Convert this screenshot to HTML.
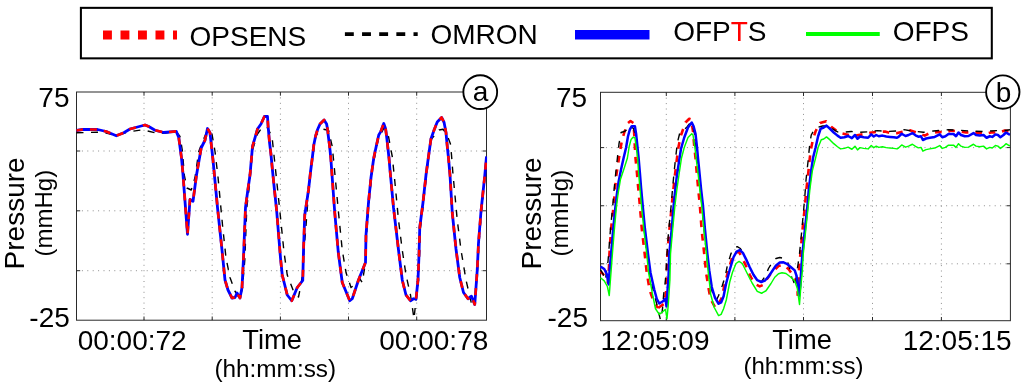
<!DOCTYPE html>
<html><head><meta charset="utf-8"><title>Pressure</title>
<style>
html,body{margin:0;padding:0;background:#fff;}
body{width:1024px;height:387px;overflow:hidden;}
svg{display:block;}
text{font-family:"Liberation Sans",sans-serif;fill:#000;}
.t28{font-size:28px;}
.grid{stroke:#8e8e8e;stroke-width:1;stroke-dasharray:1 4.4;fill:none;}
.frame{fill:none;stroke:#2a2a2a;stroke-width:1;}
.tick{stroke:#2a2a2a;stroke-width:1;}
.ln{fill:none;stroke-linejoin:round;stroke-linecap:butt;}
</style></head><body>
<svg width="1024" height="387" viewBox="0 0 1024 387">
<rect width="1024" height="387" fill="#fff"/>
<!-- legend -->
<rect x="80.9" y="7.85" width="910.9" height="50.5" fill="#fff" stroke="#000" stroke-width="2.05"/>
<line x1="103" y1="35" x2="177" y2="35" stroke="#f00" stroke-width="9.2" stroke-dasharray="8.9 8.6"/>
<text x="189.5" y="46.3" class="t28">OPSENS</text>
<line x1="344.9" y1="34.2" x2="417.7" y2="34.2" stroke="#000" stroke-width="3.7" stroke-dasharray="8.9 8.25"/>
<text x="430.5" y="43.8" class="t28">OMRON</text>
<line x1="575" y1="34.75" x2="649.5" y2="34.75" stroke="#00f" stroke-width="9.5"/>
<text x="673.2" y="40.6" class="t28">OFP<tspan fill="#f00">T</tspan>S</text>
<line x1="806" y1="34" x2="879.75" y2="34" stroke="#0f0" stroke-width="4.2"/>
<text x="892.7" y="40.6" class="t28">OFPS</text>

<!-- left chart -->
<g><line x1="144.0" y1="92" x2="144.0" y2="320.2" class="grid"/><line x1="212.2" y1="92" x2="212.2" y2="320.2" class="grid"/><line x1="280.4" y1="92" x2="280.4" y2="320.2" class="grid"/><line x1="348.5" y1="92" x2="348.5" y2="320.2" class="grid"/><line x1="416.7" y1="92" x2="416.7" y2="320.2" class="grid"/><line x1="76.5" y1="151.0" x2="486.5" y2="151.0" class="grid"/><line x1="76.5" y1="210.8" x2="486.5" y2="210.8" class="grid"/><line x1="76.5" y1="270.7" x2="486.5" y2="270.7" class="grid"/></g>
<rect x="76.5" y="92" width="410.0" height="228.2" class="frame"/><line x1="144.0" y1="320.2" x2="144.0" y2="316.5" class="tick"/><line x1="144.0" y1="92" x2="144.0" y2="95.7" class="tick"/><line x1="212.2" y1="320.2" x2="212.2" y2="316.5" class="tick"/><line x1="212.2" y1="92" x2="212.2" y2="95.7" class="tick"/><line x1="280.4" y1="320.2" x2="280.4" y2="316.5" class="tick"/><line x1="280.4" y1="92" x2="280.4" y2="95.7" class="tick"/><line x1="348.5" y1="320.2" x2="348.5" y2="316.5" class="tick"/><line x1="348.5" y1="92" x2="348.5" y2="95.7" class="tick"/><line x1="416.7" y1="320.2" x2="416.7" y2="316.5" class="tick"/><line x1="416.7" y1="92" x2="416.7" y2="95.7" class="tick"/><line x1="76.5" y1="151.0" x2="80.2" y2="151.0" class="tick"/><line x1="486.5" y1="151.0" x2="482.8" y2="151.0" class="tick"/><line x1="76.5" y1="210.8" x2="80.2" y2="210.8" class="tick"/><line x1="486.5" y1="210.8" x2="482.8" y2="210.8" class="tick"/><line x1="76.5" y1="270.7" x2="80.2" y2="270.7" class="tick"/><line x1="486.5" y1="270.7" x2="482.8" y2="270.7" class="tick"/>
<clipPath id="cl"><rect x="76.0" y="91.5" width="411.1" height="229.2"/></clipPath>
<g clip-path="url(#cl)">
<polyline class="ln" stroke="#000" stroke-width="1.4" stroke-dasharray="7 7.5" points="76.5,132.75 97.5,132.25 106.25,133 116.25,135.75 127.5,132 142.5,129.75 155,132.75 163.75,133.25 176.25,131.5 180,136.5 182.5,151.5 184.25,175 187,188 191.25,190 195,177.5 198.75,151.5 202.5,141.5 207.5,130.25 212,134 215,151.5 218,177 222.5,225 226,258 230,277.5 235,291.25 240,298.75 242.5,287.5 244.8,260 246.8,207.5 249.5,185 252.5,150 257.5,134 262.5,127 267.5,127.75 272,136.5 274.5,160 276.4,178 280,212.5 284,252 287.25,275 293.5,291.25 298.5,297 301,285 303,270 304,250 305.5,232.5 308.5,192 312,160 316,135.25 322.25,129 328.5,130.25 332.25,146.5 335,175 338.5,212.5 342.25,250 346,272.5 351,287.5 356,283.75 359.75,278.75 362.25,282.5 363.5,275 365.5,262.5 366.5,235 369,202.5 372.25,169 378,140 384,127.75 388.5,136.5 392.25,156.5 394.5,178 398.5,220 402.25,250 406,275 410.5,295 414,318.75 416,300 418.5,280 419.5,255 420.5,227.5 423.5,202.5 426.5,175 429.3,151.5 431.5,139 435.4,134.4 439.1,130 443,129.3 446.6,133.75 450.4,143.75 451.5,155 452.8,172 457.25,220 461,250 466,280 471.5,303.75 474.75,303.75 477.5,270 479,243 481.5,211.25 485,176 486.5,158"/>
<polyline class="ln" stroke="#00f" stroke-width="2.8" points="76.5,130.5 82.5,129.5 97.5,129.5 106.25,131.5 116.25,135.75 123.75,132.75 130,129 145,125 148.75,126.5 155,130.25 163.75,132.5 176.25,131.4 178.75,137.5 180.6,151.25 181.5,158 182.8,172 187.5,234.25 190,199.5 193,201.25 196.5,175 201.25,147.75 205,140.25 207.5,128.5 210,132.75 213,160 217.5,207.5 222,250 225,280 228,290 232,298 235,297.5 237,293 240,298 242,287.5 243.5,258 245.5,207.5 247.5,192.5 250,175 252.5,146.5 257.5,129 261,124 264.4,116.5 267.5,116.5 268.1,126.25 269.4,141.25 270.9,153.75 272.5,170.5 274.4,189.25 276.6,210 280.5,258 282.25,275 287.25,295 291.75,300.75 297.25,287.5 302.75,280.5 303.5,250 304.75,215 308.5,190 310.5,172 312.3,158 313.8,145 315.6,136 317.6,129.5 320,124 324.1,120 326.6,123.9 327.6,129.5 328.3,136 329.6,146 330.8,158 334.75,212.5 338.25,252 342.25,282.5 349.75,300.75 352.25,298.75 358.5,280 363.5,267.5 365.5,262.5 366,235 368.5,202.5 371,177.5 373.75,158 376.25,146.25 378.75,135 380.6,131.9 383.75,123.5 385.6,128.75 386.9,138.75 388.1,150 389,158 390,170 393.5,207.5 398.5,250 402.25,280 406,295 410.5,300.75 413.5,298.75 416,299.25 418,280 419,255 419.75,227.5 423,202.5 426,175 428.3,158 429.75,147.5 431,138.75 434.1,130 437.25,121.9 441.6,117.5 444.1,122.5 446,132.5 447.25,146.25 448.5,158 450,175 452.25,212.5 456,249 459.75,277.5 463.5,292.5 468,298.75 471.5,296.25 474.75,304.5 477.25,270 478.5,243 481,211.25 484.75,176 486.5,156.5"/>
<polyline class="ln" stroke="#f00" stroke-width="2.6" stroke-dasharray="7 7" stroke-dashoffset="0.5" points="76.5,130.5 82.5,129.5 97.5,129.5 106.25,131.5 116.25,135.75 123.75,132.75 130,129 145,125 148.75,126.5 155,130.25 163.75,132.5 176.25,131.4 178.75,137.5 180.6,151.25 181.5,158 182.8,172 187.5,234.25 190,199.5 193,201.25 196.5,175 201.25,147.75 205,140.25 207.5,128.5 210,132.75 213,160 217.5,207.5 222,250 225,280 228,290 232,298 235,297.5 237,293 240,298 242,287.5 243.5,258 245.5,207.5 247.5,192.5 250,175 252.5,146.5 257.5,129 261,124 264.4,116.5 267.5,116.5 268.1,126.25 269.4,141.25 270.9,153.75 272.5,170.5 274.4,189.25 276.6,210 280.5,258 282.25,275 287.25,295 291.75,300.75 297.25,287.5 302.75,280.5 303.5,250 304.75,215 308.5,190 310.5,172 312.3,158 313.8,145 315.6,136 317.6,129.5 320,124 324.1,120 326.6,123.9 327.6,129.5 328.3,136 329.6,146 330.8,158 334.75,212.5 338.25,252 342.25,282.5 349.75,300.75 352.25,298.75 358.5,280 363.5,267.5 365.5,262.5 366,235 368.5,202.5 371,177.5 373.75,158 376.25,146.25 378.75,135 380.6,131.9 383.75,123.5 385.6,128.75 386.9,138.75 388.1,150 389,158 390,170 393.5,207.5 398.5,250 402.25,280 406,295 410.5,300.75 413.5,298.75 416,299.25 418,280 419,255 419.75,227.5 423,202.5 426,175 428.3,158 429.75,147.5 431,138.75 434.1,130 437.25,121.9 441.6,117.5 444.1,122.5 446,132.5 447.25,146.25 448.5,158 450,175 452.25,212.5 456,249 459.75,277.5 463.5,292.5 468,298.75 471.5,296.25 474.75,304.5 477.25,270 478.5,243 481,211.25 484.75,176 486.5,156.5"/>
</g>
<circle cx="480.25" cy="92.1" r="16.9" fill="#fff" stroke="#000" stroke-width="1.85"/>
<text x="480.5" y="101.2" class="t28" text-anchor="middle">a</text>
<text x="69.5" y="107.2" class="t28" text-anchor="end">75</text>
<text x="69.8" y="326.6" class="t28" text-anchor="end">-25</text>
<text transform="translate(23.9,213.4) rotate(-90)" class="t28" text-anchor="middle">Pressure</text>
<text transform="translate(51.7,213.2) rotate(-90)" font-size="24" text-anchor="middle">(mmHg)</text>
<text x="132.2" y="349.5" class="t28" text-anchor="middle">00:00:72</text>
<text x="272.2" y="349.4" font-size="27.3" text-anchor="middle">Time</text>
<text x="275.25" y="376.6" font-size="24.35" text-anchor="middle">(hh:mm:ss)</text>
<text x="433.8" y="349.5" class="t28" text-anchor="middle">00:00:78</text>

<!-- right chart -->
<g><line x1="666.3" y1="92.3" x2="666.3" y2="320.7" class="grid"/><line x1="734.9" y1="92.3" x2="734.9" y2="320.7" class="grid"/><line x1="803.5" y1="92.3" x2="803.5" y2="320.7" class="grid"/><line x1="872.5" y1="92.3" x2="872.5" y2="320.7" class="grid"/><line x1="941.4" y1="92.3" x2="941.4" y2="320.7" class="grid"/><line x1="600.5" y1="147.6" x2="1010.4" y2="147.6" class="grid"/><line x1="600.5" y1="205.75" x2="1010.4" y2="205.75" class="grid"/><line x1="600.5" y1="263.8" x2="1010.4" y2="263.8" class="grid"/></g>
<rect x="600.5" y="92.3" width="409.9" height="228.39999999999998" class="frame"/><line x1="666.3" y1="320.7" x2="666.3" y2="317.0" class="tick"/><line x1="666.3" y1="92.3" x2="666.3" y2="96.0" class="tick"/><line x1="734.9" y1="320.7" x2="734.9" y2="317.0" class="tick"/><line x1="734.9" y1="92.3" x2="734.9" y2="96.0" class="tick"/><line x1="803.5" y1="320.7" x2="803.5" y2="317.0" class="tick"/><line x1="803.5" y1="92.3" x2="803.5" y2="96.0" class="tick"/><line x1="872.5" y1="320.7" x2="872.5" y2="317.0" class="tick"/><line x1="872.5" y1="92.3" x2="872.5" y2="96.0" class="tick"/><line x1="941.4" y1="320.7" x2="941.4" y2="317.0" class="tick"/><line x1="941.4" y1="92.3" x2="941.4" y2="96.0" class="tick"/><line x1="600.5" y1="147.6" x2="604.2" y2="147.6" class="tick"/><line x1="1010.4" y1="147.6" x2="1006.6999999999999" y2="147.6" class="tick"/><line x1="600.5" y1="205.75" x2="604.2" y2="205.75" class="tick"/><line x1="1010.4" y1="205.75" x2="1006.6999999999999" y2="205.75" class="tick"/><line x1="600.5" y1="263.8" x2="604.2" y2="263.8" class="tick"/><line x1="1010.4" y1="263.8" x2="1006.6999999999999" y2="263.8" class="tick"/>
<clipPath id="cr"><rect x="600.0" y="91.8" width="411.0" height="229.39999999999998"/></clipPath>
<g clip-path="url(#cr)">
<polyline class="ln" stroke="#f00" stroke-width="2.6" stroke-dasharray="6.7 6.9" stroke-dashoffset="1.6" points="600.5,271.5 603.6,274.6 606.1,279 608,282.75 609,266.5 609.4,254 611.1,228.5 613.6,206 614.9,190.5 616.1,176.75 618,164.25 619.5,155 621.75,141.25 624.25,132.5 628,123.1 630.5,121 633.6,123.1 634.25,135 634.9,147.5 635.5,158 636.75,170.5 638,185.5 639.9,206 641.75,228.5 644.7,254 646.75,272.75 649.25,287.75 650.5,292.5 653.6,301.25 658,308.1"/>
<polyline class="ln" stroke="#f00" stroke-width="2.6" stroke-dasharray="6.7 6.9" stroke-dashoffset="13.4" points="658,308.1 660.5,306.25 664.25,303.75 666.1,291.5 666.75,272.75 667.4,254 669.25,231 671.75,206 673,193 674.9,175.5 676.75,160 678.6,146.25 681.1,135 685.5,122.5 689.25,118.75 691.1,119.4 693,131.25 694.25,146.25 695.5,158 696.75,173 698,186.75 699.9,206 701.75,231 704.25,254 706.1,272.75 708.5,288 710.5,298.75 715.5,308.1 718.5,304 721.75,297.75 724.75,284 728.5,269.75 732.25,257.25 735.5,252.5 739,252 742.25,257.9 746,266 749.75,274.75 752.25,279.5 756,284.5 759.75,286.4 763,285 766,280.4 771,273.5 778.5,266 783.5,265 788.5,269.1 793.5,276 797.25,282.25 797.9,295.75"/>
<polyline class="ln" stroke="#f00" stroke-width="2.6" stroke-dasharray="6.7 6.9" stroke-dashoffset="1.8" points="797.9,295.75 799.1,267.25 800.4,254 802.4,231 804.9,206 806.1,191.75 808,175.5 809.8,158 810.8,150 813.1,138.75 815.6,131.25 820,123.1 826.25,121.25 831.25,126.9 836.25,130.6 842.5,133.5 848.75,135 855,135.6 862.5,134.4 870,132.75 877.5,131.9 885,131.5 890,133.1 897.4,133.1 902.4,131.7 910.5,130.4 917.5,132.8 924.75,135.6 929.75,133.1 938.5,131.9 944.75,132.75 951,130.6 958.5,131.25 966,132.5 972.25,132.25 979.75,133.1 986,133.75 992.25,132.25 998.5,132.75 1004.75,130.6 1010,131.25"/>
<polyline class="ln" stroke="#000" stroke-width="1.4" stroke-dasharray="7 7.5" points="600.5,269.6 603,274 605.5,280.25 606.75,269 608,261.5 608.6,254 610.5,228.5 612.75,206 614.25,188 615.75,173 617.4,158 619,143.75 621.1,132.5 624.9,131.25 628,128.5 630.5,125.6 633.6,128.75 635.5,135 636.5,146.25 637.8,158 639.2,173 640.5,188 642,206 644,228.5 647,254 649.5,272.75 653,289 657,305 659.25,315 660.5,320 662.4,310 663.6,295 664.9,285 665.5,279 666.5,264 667,254 668.6,231 671.1,206 672.4,190.5 674,173 675.6,158 677.4,142.5 679.9,132.5 683.6,130 687,127 690.5,122.5 692.5,125 694.5,133.75 696,147.5 697,158 698.3,170.5 700.2,189.25 702,206 704,228.5 706.5,254 708.3,270.25 710.8,287 714,297.5 716.5,300 718.5,295.75 722.25,285.75 725.4,275.75 727.25,266 731,253.5 734.1,247.9 737.25,246.6 740.4,248.5 743.5,254 746.5,260 750,268 753.5,275 757.25,280.2 761.3,282 765.4,276 768.5,268.5 772.25,262.25 776,258.5 779.75,257.5 784.1,258.5 787.9,262.9 790.4,271 791.6,277.25 792.9,279.5 795.4,286.4 797.25,269.75 799.5,254 801.75,231 804,206 804.9,195.5 806.1,179.25 808,161.75 808.75,153.75 810,142.5 811.25,135 813.75,130.6 817.5,127.5 822.5,126 827,126 832.5,128.75 837.5,131.9 843.75,132.25 851.25,131.5 858.75,132.25 867.5,131.9 877.5,130.6 886.25,131.5 896.25,131 904,129.6 912.25,131.1 923.5,132.25 933.5,131 948.5,129.75 958.5,130.25 971,131 983.5,131.5 996,130.6 1003.5,130.6 1010,129.75"/>
<polyline class="ln" stroke="#00f" stroke-width="2.5" points="600.5,266.5 604.25,269 606.75,274 608.6,284.4 609.9,266.5 611.1,254 613,231 615.5,206 616.75,195.5 618.6,181.75 621.1,169.25 623.6,158 626.1,147.5 628,136.25 629.9,129.4 631.75,126.25 634.9,126.25 636.1,133.75 637.4,146.25 638.6,158 639.9,173 641.1,188 642.75,206 644.9,228.5 648,254 650.5,272.75 654.25,289.5 656.75,298.75 659.25,303.5 663,301.25 665.5,298.75 666.5,306.5 667.4,292.5 668.6,275 669.25,254 671.75,228.5 673.6,206 674.9,193 676.75,176.75 679.25,160 681,148.75 684.25,137.5 688,127.5 691.75,122.5 693.6,126.25 695.5,133.75 697,147.5 698,158 699.25,170.5 701.1,189.25 703,206 704.9,228.5 707.4,254 709.25,270.25 711.75,287 714.9,297.5 718.6,303.75 721.1,302.5 723.6,296.25 726,284 729.75,269.75 733.5,257.25 736.6,251.6 739.75,250 742.9,252.9 746,259.1 749.75,267.25 753.5,274.75 757.25,280.2 761.3,282 765,280.5 768.5,276.6 772.25,271 776,265.4 779.75,262.5 783.5,262.25 787.25,264.1 791,267.25 794.75,270.4 796.5,275.75 797.9,284.5 799.1,295.75 800.4,284.5 801.2,270 802.4,254 804.9,229.75 807.4,206 808.6,191.75 810.5,175.5 813,158 815.6,147.5 818.1,136.25 820.6,128.75 823.75,127.5 826.5,125.6 830,128.75 833.75,132.5 837.5,135.6 840.6,137.75 844.4,137.25 848.1,136 851.9,138.1 855,135 857.5,138.75 860,136.5 863.75,137.25 868.1,137.75 871.25,134.4 873.75,136.5 876.25,135 878.75,136.25 882.5,135.6 886.25,136.5 890,136.9 893.75,137.25 897,137.75 898.5,136.9 901.7,133.75 905.5,136 908.6,135 912.4,133.1 915.5,135.3 918.3,136.7 921,136.25 922.9,140 926,138.5 929.75,137.75 934.75,136.9 939.75,134.4 942.25,137.25 945.4,136.25 948.5,134 953.5,134 956,136.25 958.5,132.5 961,135 964.75,136.25 968.5,136 973.5,133.1 976,135 979.75,135.6 983.5,135 986.6,137.75 989.75,136.25 992.25,136.9 995.4,134.4 997.9,135 1000.4,137.25 1003.5,135 1006,132.5 1009.1,134.4 1010,134.6"/>
<polyline class="ln" stroke="#0f0" stroke-width="1.45" points="600.5,277.75 604.25,280.9 607.4,286.5 609.25,295.5 610.5,279 612.4,254 614.25,231 616.5,206 618,194.25 620.5,179.25 624.25,168 627.4,158 629.25,146.25 631.1,139.4 633,137.25 634.9,137.75 636.1,146.25 637.6,158 638.6,173 639.9,188 641.5,206 644,231 646.75,254 648.6,272.75 650,280 652.4,293.75 655.5,308.75 659.25,314.4 663,311.5 665.5,309.4 667,318.75 668.25,305 669.9,280 670.5,254 672.75,228.5 674.9,206 676.75,190.5 679.25,173 681.5,158 684.25,147.5 688,137.5 691.75,133.75 693,135 694.9,147.5 696.1,158 698,173 699.9,190.5 701.75,206 704,231 706.5,254 708,270.25 709.9,286.5 710.5,293.75 714.25,307.5 718.6,315.6 721.1,314.4 723.6,308.75 726.3,300 729.75,282 732.5,272.25 736,263.5 739.1,261.4 742.25,263.5 746,271 749.75,278.5 752.25,283.25 757.25,291.4 761.6,293.25 766,290.75 771,283.5 774.75,277.25 778.5,273.7 782,272.8 786,273.5 790.5,277 794.75,281 797.25,288.25 799.5,304.5 801,284.5 802.25,272 803.25,254 805.75,229.75 808.25,206 809.9,189.25 812.4,170.5 815.6,158 818.1,147.5 821.25,139.75 823.75,139 826.5,136.9 830,139.9 833.75,143.65 837.5,146.75 840.6,148.9 844.4,148.4 848.1,147.15 851.9,149.25 855,146.15 857.5,149.9 860,147.65 863.75,148.4 868.1,148.9 871.25,145.55 873.75,147.65 876.25,146.15 878.75,147.4 882.5,146.75 886.25,147.65 890,148.05 893.75,148.4 897,148.9 898.5,148.05 901.7,144.9 905.5,147.15 908.6,146.15 912.4,144.25 915.5,146.45 918.3,147.85 921,147.4 922.9,151.15 926,149.65 929.75,148.9 934.75,148.05 939.75,145.55 942.25,148.4 945.4,147.4 948.5,145.15 953.5,145.15 956,147.4 958.5,143.65 961,146.15 964.75,147.4 968.5,147.15 973.5,144.25 976,146.15 979.75,146.75 983.5,146.15 986.6,148.9 989.75,147.4 992.25,148.05 995.4,145.55 997.9,146.15 1000.4,148.4 1003.5,146.15 1006,143.65 1009.1,145.55 1010,145.75"/>
</g>
<circle cx="1002.8" cy="92" r="16.7" fill="#fff" stroke="#000" stroke-width="1.85"/>
<text x="1003.6" y="102" class="t28" text-anchor="middle">b</text>
<text x="587.2" y="107.2" class="t28" text-anchor="end">75</text>
<text x="588" y="326.6" class="t28" text-anchor="end">-25</text>
<text transform="translate(541.2,213.4) rotate(-90)" class="t28" text-anchor="middle">Pressure</text>
<text transform="translate(568.2,213.2) rotate(-90)" font-size="24" text-anchor="middle">(mmHg)</text>
<text x="655" y="349.5" class="t28" text-anchor="middle">12:05:09</text>
<text x="802" y="349.4" font-size="27.3" text-anchor="middle">Time</text>
<text x="803.4" y="374.3" font-size="24" text-anchor="middle">(hh:mm:ss)</text>
<text x="957.2" y="349.5" class="t28" text-anchor="middle">12:05:15</text>
</svg>
</body></html>
